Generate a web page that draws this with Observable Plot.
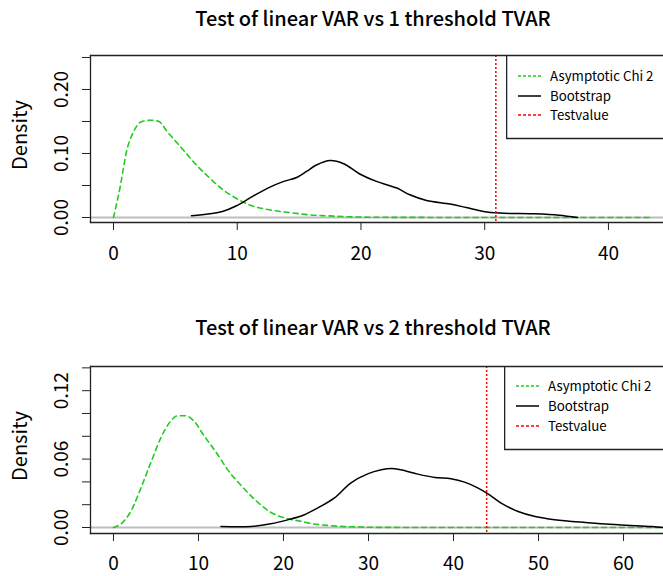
<!DOCTYPE html>
<html>
<head>
<meta charset="utf-8">
<script src="https://cdn.jsdelivr.net/npm/d3@7"></script>
<script src="https://cdn.jsdelivr.net/npm/@observablehq/plot@0.6"></script>
<style>
  body { margin: 0; background: #fff; }
  #page { position: relative; width: 663px; height: 576px; overflow: hidden; font-family: "Noto Sans CJK KR", "Noto Sans", sans-serif; color: #000; }
  .title { position: absolute; left: 83px; width: 580px; text-align: center; font-size: 20px; font-weight: 500; line-height: 22px; white-space: nowrap; }
  .ylab { position: absolute; font-size: 20px; white-space: nowrap; transform: translate(-50%, -50%) rotate(-90deg); line-height: 22px; }
  .panel { position: absolute; left: 0; }
  .legend { position: absolute; }
</style>
</head>
<body>
<div id="page"></div>
<script>
// ---------------- data ----------------
const titles = ["Test of linear VAR vs 1 threshold TVAR", "Test of linear VAR vs 2 threshold TVAR"];
const yTitle = "Density";
const legendLabels = ["Asymptotic Chi 2", "Bootstrap", "Testvalue"];

// Panel 1
const chi1X = [0, 0.57, 1.05, 1.62, 2.3, 3.1, 3.67, 4.35, 5.57, 6.65, 7.75, 8.8, 9.9, 11.25, 12.6, 14.2, 15.85, 17.2, 19, 22, 26, 30, 36, 43.5];
const chi1Y = [0, 0.051, 0.103, 0.134, 0.150, 0.152, 0.150, 0.134, 0.107, 0.083, 0.062, 0.044, 0.030, 0.018, 0.012, 0.0078, 0.0042, 0.0027, 0.0012, 0.0003, 0.0001, 0, 0, 0];
const boot1X = [6.3, 7.75, 8.8, 9.9, 11.25, 12.6, 13.7, 14.8, 15.6, 16.4, 17.5, 18.6, 19.9, 21.3, 22.9, 23.95, 25.3, 27.2, 28.5, 29.9, 31.2, 33.9, 36.0, 37.5];
const boot1Y = [0.0027, 0.0058, 0.0094, 0.018, 0.033, 0.047, 0.056, 0.0625, 0.072, 0.082, 0.089, 0.084, 0.068, 0.056, 0.046, 0.0355, 0.0266, 0.021, 0.0156, 0.0094, 0.0069, 0.0058, 0.0037, 0];
const test1 = 30.9;
const xTicks1 = [0, 10, 20, 30, 40];
const yTicks1 = [0, 0.05, 0.10, 0.15, 0.20, 0.25];
const yLabels1 = [0, 0.10, 0.20];

// Panel 2
const chi2X = [0, 0.9, 2.1, 3.25, 4.4, 5.6, 6.6, 7.55, 8.5, 9.5, 10.7, 12.25, 13.4, 15.0, 16.55, 18.5, 20.5, 22.05, 23.2, 25.5, 28, 32, 40, 50, 64.3];
const chi2Y = [0, 0.0032, 0.015, 0.035, 0.057, 0.079, 0.092, 0.098, 0.098, 0.093, 0.080, 0.064, 0.051, 0.037, 0.025, 0.0134, 0.0076, 0.0055, 0.0035, 0.0016, 0.0006, 0.0001, 0, 0, 0];
const boot2X = [12.65, 16.2, 18.5, 20.5, 22.4, 24.0, 26.0, 27.9, 29.9, 31.5, 32.7, 33.8, 35.8, 37.8, 39.7, 41.3, 42.9, 44.1, 45.6, 47.6, 49.6, 51.9, 55.5, 59.4, 63.3, 64.8];
const boot2Y = [0.0009, 0.0009, 0.0032, 0.0067, 0.011, 0.017, 0.026, 0.039, 0.047, 0.0506, 0.0518, 0.0506, 0.0468, 0.0439, 0.0427, 0.0398, 0.0346, 0.0293, 0.0214, 0.0140, 0.0096, 0.0068, 0.0044, 0.0024, 0.0009, 0];
const test2 = 43.9;
const xTicks2 = [0, 10, 20, 30, 40, 50, 60];
const yTicks2 = [0, 0.02, 0.04, 0.06, 0.08, 0.10, 0.12, 0.14];
const yLabels2 = [0, 0.06, 0.12];

// ---------------- styles ----------------
const GREEN = "#1fcc1f";
const RED = "#ff0000";
const FRAME = "#222";
const FONT = "'Noto Sans CJK KR', 'Noto Sans', sans-serif";

const page = document.getElementById("page");

function panel(cfg) {
  const chi = cfg.chiX.map((x, i) => ({x, y: cfg.chiY[i]}));
  const boot = cfg.bootX.map((x, i) => ({x, y: cfg.bootY[i]}));
  const chart = Plot.plot({
    width: 663,
    height: cfg.height,
    marginLeft: 90, marginRight: 0, marginTop: cfg.mt, marginBottom: cfg.mb,
    x: {domain: cfg.xDomain},
    y: {domain: cfg.yDomain},
    style: {fontFamily: FONT, fontSize: "19px", color: "#000", background: "#fff", overflow: "hidden"},
    marks: [
      Plot.ruleY([0], {stroke: "#bdbdbd", strokeWidth: 2}),
      Plot.line(chi, {x: "x", y: "y", stroke: GREEN, strokeWidth: 1.6, strokeDasharray: "5,4", curve: "monotone-x"}),
      Plot.line(boot, {x: "x", y: "y", stroke: "#000", strokeWidth: 1.5, curve: "catmull-rom"}),
      Plot.ruleX([cfg.test], {stroke: RED, strokeWidth: 1.5, strokeDasharray: "2,2"}),
      Plot.frame({anchor: "left", stroke: FRAME, strokeWidth: 1.3}),
      Plot.frame({anchor: "top", stroke: FRAME, strokeWidth: 1.3}),
      Plot.frame({anchor: "bottom", stroke: FRAME, strokeWidth: 1.3}),
      Plot.axisX(cfg.xTicks, {tickSize: 8, tickPadding: cfg.xPad, fontSize: 19, label: null, stroke: FRAME}),
      Plot.axisY(cfg.yTicks, {tickSize: 8, tickFormat: () => "", label: null, stroke: FRAME}),
      Plot.text(cfg.yLabels, {y: d => d, text: d => d.toFixed(2), frameAnchor: "left", textAnchor: "middle", lineAnchor: "middle", dx: -29, rotate: -90, fontSize: 19, fill: "#000"})
    ]
  });
  chart.classList.add("panel");
  chart.style.top = cfg.top + "px";
  page.appendChild(chart);

  const t = document.createElement("div");
  t.className = "title";
  t.textContent = cfg.title;
  t.style.top = cfg.titleTop + "px";
  page.appendChild(t);

  const yl = document.createElement("div");
  yl.className = "ylab";
  yl.textContent = yTitle;
  yl.style.left = "19px";
  yl.style.top = cfg.ylabY + "px";
  page.appendChild(yl);

  // legend box (open on the right, clipped by the page edge)
  const lw = 663 - cfg.legLeft, lh = cfg.legH;
  const ns = "http://www.w3.org/2000/svg";
  const svg = document.createElementNS(ns, "svg");
  svg.setAttribute("width", lw);
  svg.setAttribute("height", lh + 2);
  svg.classList.add("legend");
  svg.style.left = cfg.legLeft + "px";
  svg.style.top = (cfg.top + cfg.mt) + "px";
  const bg = document.createElementNS(ns, "rect");
  bg.setAttribute("x", 0); bg.setAttribute("y", 0);
  bg.setAttribute("width", lw); bg.setAttribute("height", lh);
  bg.setAttribute("fill", "#fff");
  svg.appendChild(bg);
  const box = document.createElementNS(ns, "path");
  box.setAttribute("d", `M${lw},0.5H0.65V${lh + 0.5}H${lw}`);
  box.setAttribute("fill", "none");
  box.setAttribute("stroke", FRAME);
  box.setAttribute("stroke-width", 1.3);
  svg.appendChild(box);
  const styles = [
    {stroke: GREEN, dash: "3,2"},
    {stroke: "#000", dash: null},
    {stroke: RED, dash: "3,2"}
  ];
  legendLabels.forEach((lab, i) => {
    const yy = cfg.legRows[i];
    const ln = document.createElementNS(ns, "line");
    ln.setAttribute("x1", 12); ln.setAttribute("x2", 35);
    ln.setAttribute("y1", yy); ln.setAttribute("y2", yy);
    ln.setAttribute("stroke", styles[i].stroke);
    ln.setAttribute("stroke-width", 1.5);
    if (styles[i].dash) ln.setAttribute("stroke-dasharray", styles[i].dash);
    svg.appendChild(ln);
    const tx = document.createElementNS(ns, "text");
    tx.setAttribute("x", 44); tx.setAttribute("y", yy);
    tx.setAttribute("dy", "0.35em");
    tx.setAttribute("font-family", FONT);
    tx.setAttribute("font-size", 13.3);
    tx.setAttribute("fill", "#000");
    tx.textContent = lab;
    svg.appendChild(tx);
  });
  page.appendChild(svg);
}

panel({
  title: titles[0], titleTop: 7, top: 0, height: 290, mt: 55, mb: 68, xPad: 16,
  xDomain: [-1.86, 44.45], yDomain: [-0.0078, 0.2531],
  chiX: chi1X, chiY: chi1Y, bootX: boot1X, bootY: boot1Y, test: test1,
  xTicks: xTicks1, yTicks: yTicks1, yLabels: yLabels1,
  ylabY: 135, legLeft: 506, legH: 83, legRows: [21, 41, 60]
});
panel({
  title: titles[1], titleTop: 316, top: 290, height: 286, mt: 76, mb: 43, xPad: 15,
  xDomain: [-2.7, 64.7], yDomain: [-0.00526, 0.1412],
  chiX: chi2X, chiY: chi2Y, bootX: boot2X, bootY: boot2Y, test: test2,
  xTicks: xTicks2, yTicks: yTicks2, yLabels: yLabels2,
  ylabY: 446, legLeft: 504, legH: 83, legRows: [20, 40, 60]
});
</script>
</body>
</html>
